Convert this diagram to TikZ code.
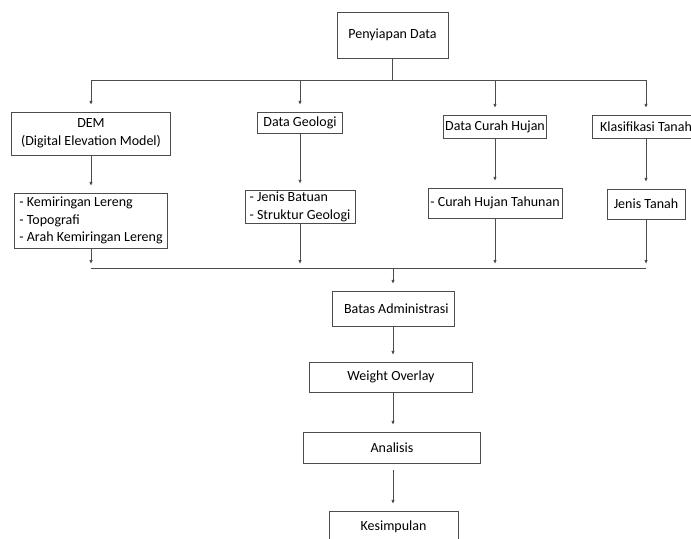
\documentclass[tikz,border=0pt]{standalone}
\usepackage{fontspec}
\setmainfont{Carlito}
\usetikzlibrary{arrows.meta}
\begin{document}
\begin{tikzpicture}[
    x=0.75pt, y=-0.75pt,
    box/.style={rectangle, draw=black!70, line width=0.6pt, align=center,
      font=\fontsize{10.5}{13.2}\selectfont, inner sep=1pt},
    listbox/.style={box, align=left},
    line/.style={draw=black!70, line width=0.6pt},
    arr/.style={line, -{Latex[length=3pt,width=2.6pt]}, shorten >=5pt}
  ]
    \clip (0,0) rectangle (691,538);
    \node[box, minimum width=83.25pt, minimum height=34.5pt] (prep) at (392.5,35) {Penyiapan Data};

    \node[box, minimum width=119.25pt, minimum height=32.25pt] (dem) at (91,133.5) {DEM\\(Digital Elevation Model)};
    \node[box, minimum width=63.75pt, minimum height=15.75pt] (geo) at (300,122.5) {Data Geologi};
    \node[box, minimum width=75.75pt, minimum height=17.25pt] (hujan) at (495,126.5) {Data Curah Hujan};
    \node[box, minimum width=80.25pt, minimum height=17.25pt] (klas) at (646,126.5) {Klasifikasi Tanah};

    \node[listbox, minimum width=114.75pt, minimum height=41.25pt] (demsub) at (91,220.5) {- Kemiringan Lereng\\- Topografi\\- Arah Kemiringan Lereng};
    \node[listbox, minimum width=82.5pt, minimum height=24pt] (geosub) at (300,207) {- Jenis Batuan\\- Struktur Geologi};
    \node[box, minimum width=100.5pt, minimum height=22.5pt] (hujansub) at (495,203) {- Curah Hujan Tahunan};
    \node[box, minimum width=58.5pt, minimum height=22.5pt] (tanah) at (646,204) {Jenis Tanah};

    \node[box, minimum width=91.5pt, minimum height=26.25pt] (batas) at (393,308.5) {\hspace*{5pt}Batas Administrasi};
    \node[box, minimum width=122.25pt, minimum height=22.5pt] (weight) at (391,377) {Weight Overlay};
    \node[box, minimum width=132.75pt, minimum height=23.25pt] (analisis) at (392,447.5) {Analisis};
    \node[box, minimum width=96.75pt, minimum height=24pt] (kes) at (393.5,527) {Kesimpulan};

    \coordinate (bus1) at (0,80);
    \coordinate (bus2) at (0,268);

    \draw[line] (prep.south) -- (prep.south |- bus1);
    \draw[line] (dem.north |- bus1) -- (klas.north |- bus1);
    \foreach \n in {dem,geo,hujan,klas}
      \draw[arr] (\n.north |- bus1) -- (\n.north);
    \foreach \a/\b in {dem/demsub,geo/geosub,hujan/hujansub,klas/tanah}
      \draw[arr] (\a.south) -- (\a.south |- \b.north);
    \foreach \n in {demsub,geosub,hujansub,tanah}
      \draw[arr, shorten >=3pt] (\n.south) -- (\n.south |- bus2);
    \draw[line] (demsub.south |- bus2) -- (tanah.south |- bus2);

    \draw[arr] (batas.north |- bus2) -- (batas.north);
    \draw[arr] (batas.south) -- (batas.south |- weight.north);
    \draw[arr] (batas.south |- weight.south) -- (batas.south |- analisis.north);
    \draw[arr, shorten <=5pt] (batas.south |- analisis.south) -- (batas.south |- kes.north);
  \end{tikzpicture}
\end{document}
